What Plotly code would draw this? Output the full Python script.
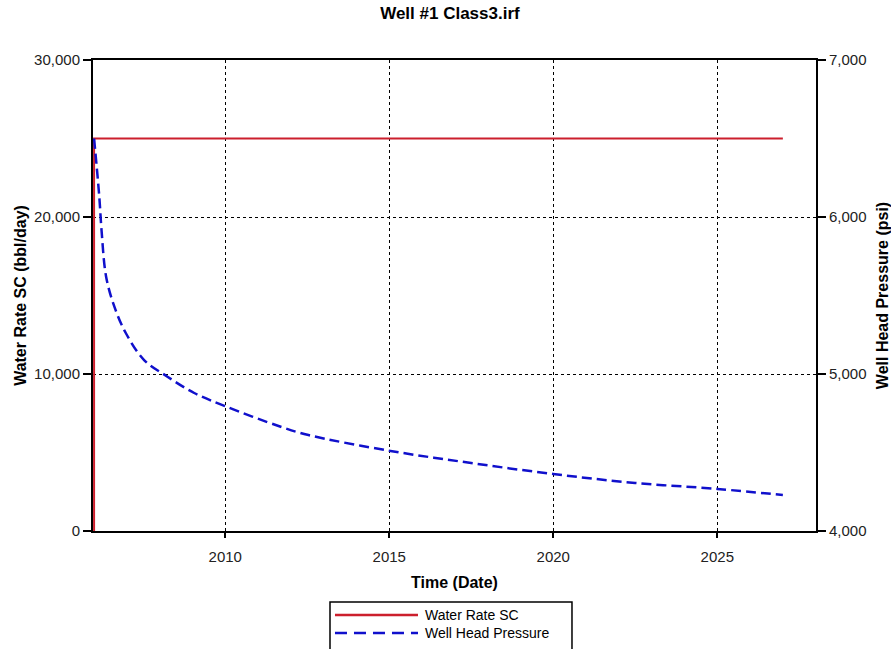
import plotly.graph_objects as go

# Data
rate_dates = ["2006-01-01", "2006-01-01", "2027-01-01"]
rate_values = [0, 25000, 25000]

pressure_dates = [
    "2006-01-01", "2006-02-28", "2006-03-25", "2006-05-15", "2006-08-15",
    "2006-12-20", "2007-07-12", "2008-03-28", "2009-01-20", "2010-01-15",
    "2011-09-10", "2012-07-15", "2015-01-15", "2017-07-01", "2020-01-01",
    "2022-07-01", "2025-01-01", "2027-01-01",
]
pressure_values = [
    6500, 6129, 5917, 5620, 5429,
    5261, 5089, 4983, 4879, 4792,
    4664, 4611, 4510, 4433, 4363,
    4306, 4268, 4229,
]

series_names = ["Water Rate SC", "Well Head Pressure"]
series_colors = ["#CC1F2D", "#1010CC"]

title_text = "Well #1 Class3.irf"
x_title = "Time (Date)"
y1_title = "Water Rate SC (bbl/day)"
y2_title = "Well Head Pressure (psi)"

font = "Liberation Sans, Arial, sans-serif"

fig = go.Figure()
fig.add_trace(go.Scatter(
    x=rate_dates, y=rate_values, name=series_names[0], mode="lines",
    line=dict(color=series_colors[0], width=2), yaxis="y", showlegend=False,
))
fig.add_trace(go.Scatter(
    x=pressure_dates, y=pressure_values, name=series_names[1], mode="lines",
    line=dict(color=series_colors[1], width=2.5, dash="10px,5px", shape="spline"),
    yaxis="y2", showlegend=False,
))

# Legend box drawn in paper coordinates (long line samples like the reference)
shapes = [
    dict(type="rect", xref="paper", yref="paper", x0=0.3278, x1=0.6625,
         y0=-0.1507, y1=-0.2600, line=dict(color="black", width=1.5),
         fillcolor="white", layer="above"),
]
annotations = []
legend_rows = [-0.1783, -0.2166]
legend_dash = ["solid", "12px,7px"]
for name, color, ry, dsh in zip(series_names, series_colors, legend_rows, legend_dash):
    shapes.append(dict(type="line", xref="paper", yref="paper", x0=0.3347, x1=0.4495,
                       y0=ry, y1=ry, line=dict(color=color, width=2.5, dash=dsh)))
    annotations.append(dict(xref="paper", yref="paper", x=0.4565, y=ry, text=name,
                            showarrow=False, xanchor="left", yanchor="middle",
                            font=dict(family=font, size=14, color="black")))

fig.update_layout(
    width=891, height=649,
    margin=dict(l=93, r=75, t=60, b=118, autoexpand=False),
    paper_bgcolor="white", plot_bgcolor="white",
    title=dict(text="<b>" + title_text + "</b>", x=0.505, xanchor="center",
               y=0.980, yanchor="middle",
               font=dict(family=font, size=17, color="black")),
    showlegend=False,
    shapes=shapes,
    annotations=annotations,
    xaxis=dict(
        type="date", range=["2005-12-20", "2028-01-05"],
        tick0="2010-01-01", dtick="M60", tickformat="%Y",
        showgrid=True, gridcolor="black", gridwidth=1, griddash="3px,3px",
        showline=True, linecolor="black", linewidth=2, mirror=True,
        ticks="outside", ticklen=5, tickcolor="black", tickwidth=1.5,
        ticklabelstandoff=6,
        tickfont=dict(family=font, size=15, color="#222"),
        title=dict(text="<b>" + x_title + "</b>", standoff=13,
                   font=dict(family=font, size=16, color="black")),
        zeroline=False, automargin=False,
    ),
    yaxis=dict(
        range=[0, 30000], tickvals=[0, 10000, 20000, 30000],
        ticktext=["0", "10,000", "20,000", "30,000"],
        showgrid=True, gridcolor="black", gridwidth=1, griddash="3px,3px",
        showline=True, linecolor="black", linewidth=2,
        ticks="outside", ticklen=8, tickcolor="black", tickwidth=2,
        tickfont=dict(family=font, size=15, color="#222"),
        title=dict(text="<b>" + y1_title + "</b>", standoff=4,
                   font=dict(family=font, size=16, color="black")),
        zeroline=False, automargin=False,
    ),
    yaxis2=dict(
        range=[4000, 7000], tickvals=[4000, 5000, 6000, 7000],
        ticktext=["4,000", "5,000", "6,000", "7,000"],
        overlaying="y", side="right", showgrid=False,
        showline=True, linecolor="black", linewidth=2,
        ticks="outside", ticklen=8, tickcolor="black", tickwidth=2,
        tickfont=dict(family=font, size=15, color="#222"),
        title=dict(text="<b>" + y2_title + "</b>", standoff=14,
                   font=dict(family=font, size=16, color="black")),
        zeroline=False, automargin=False,
    ),
)

fig.write_html("out.html", config={"displayModeBar": False},
               post_script="document.body.style.margin='0px';")
